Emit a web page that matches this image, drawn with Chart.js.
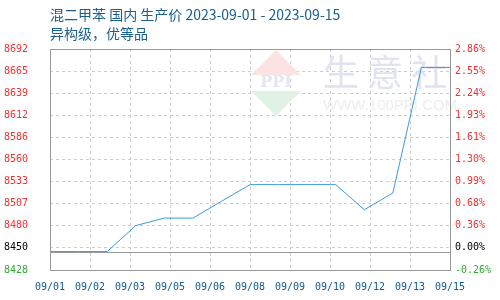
<!DOCTYPE html>
<html><head><meta charset="utf-8">
<script src="https://cdn.jsdelivr.net/npm/chart.js@4"></script>
<style>html,body{margin:0;padding:0;background:#fff}#wrap{width:500px;height:300px;position:relative}</style>
</head><body><div id="wrap"><canvas id="c" width="500" height="300"></canvas></div>
<script>
const titleLine1 = "混二甲苯 国内 生产价 2023-09-01 - 2023-09-15";
const titleLine2 = "异构级，优等品";
const dates = ["09/01","09/02","09/03","09/04","09/05","09/06","09/07","09/08","09/09","09/10","09/11","09/12","09/13","09/14","09/15"];
const prices = [8450,8450,8450,8481,8490,8490,8510,8530,8530,8530,8530,8500,8520,8670,8670];
const basePrice = 8450;
const xTickLabels = ["09/01","09/02","09/03","09/05","09/06","09/08","09/09","09/10","09/12","09/13","09/15"];
const yMin = 8428, yMax = 8692;
const yTickLabels = ["8428","8450","8480","8507","8533","8560","8586","8612","8639","8665","8692"];
const pctTickLabels = ["-0.26%","0.00%","0.36%","0.68%","0.99%","1.30%","1.61%","1.93%","2.24%","2.55%","2.86%"];

const nY = yTickLabels.length - 1;
const yStep = (yMax - yMin) / nY;
const nX = xTickLabels.length - 1;
const xMax = dates.length - 1;
const labelColor = i => i === 0 ? '#33aa33' : (i === 1 ? '#000000' : '#ee3333');

const points = dates.map((d, i) => ({x: i, y: prices[i]}));

const bgPlugin = {
  id: 'bg',
  beforeDatasetsDraw(chart) {
    const ctx = chart.ctx, a = chart.chartArea;
    ctx.save();
    // watermark logo
    const cx = 276;
    ctx.fillStyle = '#fbe3e3';
    ctx.beginPath(); ctx.moveTo(cx, 50); ctx.lineTo(cx + 25, 75); ctx.lineTo(cx - 25, 75); ctx.closePath(); ctx.fill();
    ctx.fillStyle = '#e0f2e4';
    ctx.beginPath(); ctx.moveTo(cx - 25, 91); ctx.lineTo(cx + 25, 91); ctx.lineTo(cx, 116); ctx.closePath(); ctx.fill();
    ctx.fillStyle = '#e2e6f0';
    ctx.font = 'bold 16px "DejaVu Serif"';
    ctx.textAlign = 'center'; ctx.textBaseline = 'middle';
    ctx.fillText('PPI', cx, 83);
    ctx.font = '36px "Noto Sans CJK SC"';
    ctx.fillStyle = '#e1e4ee';
    ctx.textAlign = 'left';
    ctx.fillText('生 意 社', 323, 72);
    ctx.font = '15px "Liberation Sans"';
    ctx.fillStyle = '#eeeeee';
    ctx.fillText('WWW.100PPI.COM', 323, 106);
    // base line
    const y = chart.scales.y.getPixelForValue(basePrice);
    ctx.strokeStyle = '#999999'; ctx.lineWidth = 1;
    ctx.beginPath(); ctx.moveTo(a.left, Math.round(y) + 0.5); ctx.lineTo(a.right, Math.round(y) + 0.5); ctx.stroke();
    ctx.restore();
  },
  afterDraw(chart) {
    const ctx = chart.ctx, a = chart.chartArea;
    ctx.save();
    ctx.strokeStyle = '#999999'; ctx.lineWidth = 1;
    ctx.strokeRect(a.left + 0.5, a.top + 0.5, a.right - a.left, a.bottom - a.top);
    ctx.fillStyle = '#1a5f8e';
    ctx.font = '14px "Noto Sans CJK SC"';
    ctx.textBaseline = 'middle'; ctx.textAlign = 'left';
    ctx.fillText(titleLine1, 50, 15);
    ctx.fillText(titleLine2, 50, 34);
    ctx.restore();
  }
};

new Chart(document.getElementById('c'), {
  type: 'line',
  data: { datasets: [{ data: points, borderColor: '#3b9ad8', borderWidth: 1, pointRadius: 0, tension: 0, fill: false }] },
  options: {
    responsive: false, animation: false,
    layout: { padding: { top: 49, left: 0, right: 0, bottom: 0 } },
    plugins: { legend: { display: false }, tooltip: { enabled: false } },
    scales: {
      x: {
        type: 'linear', min: 0, max: xMax,
        afterBuildTicks: s => { s.ticks = xTickLabels.map((l, k) => ({ value: k * xMax / nX })); },
        afterFit: s => { s.height = 30; },
        border: { display: false, dash: [3, 3] },
        grid: { color: '#cccccc', lineWidth: 1, drawTicks: false },
        ticks: { padding: 11, color: '#0e5a8c', font: { family: '"DejaVu Sans Mono"', size: 10 }, maxRotation: 0, autoSkip: false,
          callback: (v, i) => xTickLabels[i] }
      },
      y: {
        position: 'left', min: yMin, max: yMax,
        afterBuildTicks: s => { s.ticks = yTickLabels.map((l, k) => ({ value: yMin + k * yStep })); },
        afterFit: s => { s.width = 50; },
        border: { display: false, dash: [3, 3] },
        grid: { color: '#cccccc', lineWidth: 1, drawTicks: false },
        ticks: { padding: 22, color: ctx => labelColor(ctx.index), font: { family: '"DejaVu Sans Mono"', size: 10 }, autoSkip: false,
          callback: (v, i) => yTickLabels[i] }
      },
      y2: {
        position: 'right', min: yMin, max: yMax,
        afterBuildTicks: s => { s.ticks = pctTickLabels.map((l, k) => ({ value: yMin + k * yStep })); },
        afterFit: s => { s.width = 50; },
        border: { display: false },
        grid: { display: false, drawTicks: false },
        ticks: { padding: 5, color: ctx => labelColor(ctx.index), font: { family: '"DejaVu Sans Mono"', size: 10 }, autoSkip: false,
          callback: (v, i) => pctTickLabels[i] }
      }
    }
  },
  plugins: [bgPlugin]
});
</script></body></html>
